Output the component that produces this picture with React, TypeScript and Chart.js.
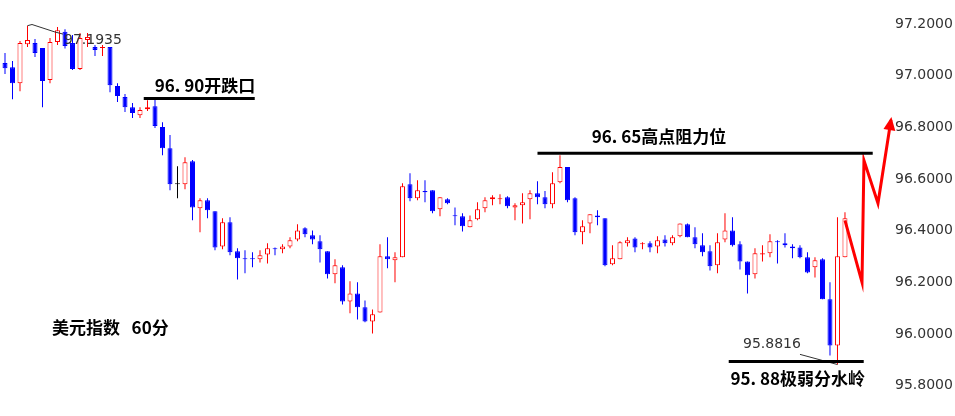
import React, { useEffect, useRef } from "react";
import { Chart, registerables } from "chart.js";

Chart.register(...registerables);

const UP = "#ff0000";
const DOWN = "#0000ff";
const FLAT = "#000000";

// 60-minute candles of the US Dollar Index (O / H / L / C)
const opens = [
  97.049, 97.033, 96.971, 97.122, 97.126, 97.107, 96.983, 97.130, 97.170, 97.126,
  97.026, 97.138, 97.111, 97.107, 97.111, 96.960, 96.917, 96.878, 96.847, 96.870,
  96.882, 96.801, 96.719, 96.580, 96.580, 96.669, 96.487, 96.518, 96.475, 96.339,
  96.432, 96.320, 96.293, 96.293, 96.289, 96.308, 96.332, 96.328, 96.339, 96.366,
  96.409, 96.382, 96.359, 96.320, 96.231, 96.258, 96.126, 96.157, 96.103, 96.048,
  96.083, 96.301, 96.285, 96.297, 96.580, 96.525, 96.553, 96.556, 96.483, 96.522,
  96.459, 96.456, 96.413, 96.444, 96.487, 96.522, 96.522, 96.529, 96.490, 96.498,
  96.522, 96.545, 96.529, 96.502, 96.587, 96.646, 96.525, 96.394, 96.428, 96.459,
  96.448, 96.270, 96.289, 96.351, 96.370, 96.347, 96.351, 96.339, 96.366, 96.351,
  96.378, 96.425, 96.374, 96.343, 96.320, 96.266, 96.366, 96.401, 96.347, 96.281,
  96.231, 96.308, 96.312, 96.359, 96.351, 96.339, 96.335, 96.297, 96.258, 96.289,
  96.134, 95.955, 96.297,
];
const highs = [
  97.088, 97.057, 97.134, 97.1935, 97.142, 97.107, 97.146, 97.188, 97.180, 97.157,
  97.165, 97.165, 97.119, 97.119, 97.111, 96.971, 96.929, 96.894, 96.878, 96.905,
  96.909, 96.820, 96.770, 96.649, 96.684, 96.673, 96.525, 96.525, 96.475, 96.448,
  96.452, 96.332, 96.324, 96.316, 96.324, 96.351, 96.335, 96.347, 96.374, 96.425,
  96.413, 96.401, 96.382, 96.320, 96.289, 96.266, 96.204, 96.200, 96.130, 96.095,
  96.347, 96.374, 96.316, 96.583, 96.622, 96.595, 96.595, 96.556, 96.529, 96.525,
  96.490, 96.467, 96.459, 96.510, 96.529, 96.537, 96.541, 96.533, 96.506, 96.545,
  96.556, 96.591, 96.553, 96.626, 96.692, 96.646, 96.529, 96.440, 96.463, 96.479,
  96.448, 96.343, 96.359, 96.374, 96.374, 96.355, 96.359, 96.378, 96.382, 96.382,
  96.428, 96.428, 96.413, 96.390, 96.343, 96.390, 96.467, 96.452, 96.359, 96.281,
  96.332, 96.343, 96.386, 96.363, 96.390, 96.347, 96.343, 96.316, 96.297, 96.293,
  96.200, 96.452, 96.471,
];
const lows = [
  97.006, 96.909, 96.940, 97.111, 97.072, 96.878, 96.971, 97.119, 97.105, 97.022,
  97.022, 97.111, 97.076, 97.076, 96.936, 96.898, 96.859, 96.836, 96.836, 96.863,
  96.797, 96.692, 96.556, 96.525, 96.560, 96.440, 96.394, 96.448, 96.324, 96.328,
  96.305, 96.211, 96.235, 96.258, 96.277, 96.273, 96.305, 96.312, 96.332, 96.359,
  96.374, 96.347, 96.277, 96.215, 96.196, 96.114, 96.080, 96.056, 96.045, 96.002,
  96.083, 96.254, 96.200, 96.297, 96.514, 96.518, 96.510, 96.467, 96.456, 96.502,
  96.421, 96.397, 96.413, 96.440, 96.471, 96.498, 96.502, 96.487, 96.440, 96.428,
  96.444, 96.502, 96.487, 96.487, 96.583, 96.510, 96.382, 96.347, 96.390, 96.421,
  96.262, 96.266, 96.289, 96.339, 96.316, 96.328, 96.316, 96.312, 96.339, 96.343,
  96.374, 96.374, 96.332, 96.301, 96.246, 96.235, 96.355, 96.339, 96.250, 96.157,
  96.215, 96.281, 96.297, 96.273, 96.335, 96.293, 96.293, 96.235, 96.219, 96.134,
  95.917, 95.8816, 96.297,
];
const closes = [
  97.029, 96.971, 97.126, 97.138, 97.088, 96.979, 97.130, 97.176, 97.115, 97.026,
  97.146, 97.150, 97.099, 97.111, 96.963, 96.921, 96.878, 96.855, 96.867, 96.878,
  96.805, 96.719, 96.580, 96.580, 96.665, 96.490, 96.518, 96.479, 96.335, 96.432,
  96.316, 96.293, 96.289, 96.289, 96.305, 96.332, 96.328, 96.339, 96.363, 96.401,
  96.386, 96.366, 96.328, 96.231, 96.266, 96.126, 96.157, 96.103, 96.048, 96.076,
  96.301, 96.289, 96.297, 96.572, 96.525, 96.556, 96.549, 96.475, 96.529, 96.506,
  96.456, 96.417, 96.440, 96.483, 96.518, 96.529, 96.525, 96.494, 96.498, 96.510,
  96.545, 96.529, 96.502, 96.583, 96.646, 96.518, 96.394, 96.417, 96.463, 96.452,
  96.266, 96.293, 96.355, 96.363, 96.335, 96.351, 96.335, 96.363, 96.351, 96.374,
  96.428, 96.374, 96.347, 96.316, 96.262, 96.355, 96.401, 96.343, 96.281, 96.227,
  96.312, 96.312, 96.359, 96.355, 96.343, 96.332, 96.297, 96.238, 96.285, 96.134,
  95.955, 96.301, 96.448,
];

const yTicks = [95.8, 96.0, 96.2, 96.4, 96.6, 96.8, 97.0, 97.2];

// key horizontal levels: value, from bar index, to bar index
const levelValues = [96.912, 96.7, 95.893];
const levelFrom = [18.5, 71.0, 96.5];
const levelTo = [33.3, 115.7, 114.5];

// projected path (bar index, price)
const projX = [112, 114.27, 114.53, 116.4, 118.13];
const projY = [96.44, 96.2, 96.672, 96.506, 96.828];

// pointer lines for the extreme-value labels
const hiPtrX = [3, 3.6, 6.67, 7.73];
const hiPtrY = [97.1935, 97.198, 97.169, 97.161];
const loPtrX = [106, 111];
const loPtrY = [95.921, 95.8816];

const CJK_FONT = "bold 17px 'Noto Sans CJK SC', sans-serif";
const NUM_FONT = "14px 'DejaVu Sans', sans-serif";

const annotations = [
  { text: "96. 90开跌口", x: 26.67, y: 96.963, align: "center", font: CJK_FONT, color: "#000" },
  { text: "96. 65高点阻力位", x: 87.2, y: 96.766, align: "center", font: CJK_FONT, color: "#000" },
  { text: "95. 88极弱分水岭", x: 105.7, y: 95.827, align: "center", font: CJK_FONT, color: "#000" },
  { text: "美元指数   60分", x: 6.27, y: 96.025, align: "left", font: CJK_FONT, color: "#000" },
  { text: "97.1935", x: 7.87, y: 97.138, align: "left", font: NUM_FONT, color: "#333" },
  { text: "95.8816", x: 98.4, y: 95.959, align: "left", font: NUM_FONT, color: "#333" },
];

const toPts = (xs: number[], ys: number[]) => xs.map((x, i) => ({ x, y: ys[i] }));

export default function App() {
  const ref = useRef<HTMLCanvasElement>(null);

  useEffect(() => {
    if (!ref.current) return;
    const idx = opens.map((_, i) => i);
    const colorOf = (i: number) =>
      closes[i] > opens[i] ? UP : closes[i] < opens[i] ? DOWN : FLAT;

    const levelSets = levelValues.map((v, k) => ({
      type: "line" as const,
      data: [
        { x: levelFrom[k], y: v },
        { x: levelTo[k], y: v },
      ],
      borderColor: "#000",
      borderWidth: 3,
      pointRadius: 0,
      order: 0,
    }));

    const PROJ_INDEX = 2 + levelSets.length + 2;

    const overlay = {
      id: "overlay",
      afterDatasetsDraw(chart: any) {
        const { ctx } = chart;
        const xs = chart.scales.x;
        const ys = chart.scales.y;
        // arrow head on projected path
        const pts = chart.getDatasetMeta(PROJ_INDEX).data;
        const a = pts[pts.length - 2];
        const b = pts[pts.length - 1];
        const ang = Math.atan2(b.y - a.y, b.x - a.x);
        const len = 13;
        const half = 6;
        const tipX = b.x + Math.cos(ang) * 3;
        const tipY = b.y + Math.sin(ang) * 3;
        const bx = tipX - Math.cos(ang) * len;
        const by = tipY - Math.sin(ang) * len;
        ctx.save();
        ctx.fillStyle = UP;
        ctx.beginPath();
        ctx.moveTo(tipX, tipY);
        ctx.lineTo(bx + Math.cos(ang + Math.PI / 2) * half, by + Math.sin(ang + Math.PI / 2) * half);
        ctx.lineTo(bx + Math.cos(ang - Math.PI / 2) * half, by + Math.sin(ang - Math.PI / 2) * half);
        ctx.closePath();
        ctx.fill();
        // text labels
        ctx.textBaseline = "middle";
        for (const an of annotations) {
          ctx.font = an.font;
          ctx.fillStyle = an.color;
          ctx.textAlign = an.align as CanvasTextAlign;
          ctx.fillText(an.text, xs.getPixelForValue(an.x), ys.getPixelForValue(an.y));
        }
        ctx.restore();
      },
    };

    const chart = new Chart(ref.current, {
      type: "bar",
      data: {
        datasets: [
          {
            type: "bar",
            label: "wick",
            data: idx.map((i) => ({ x: i, y: [lows[i], highs[i]] })) as any,
            backgroundColor: idx.map(colorOf),
            barThickness: 1,
            grouped: false,
            inflateAmount: 0,
            order: 3,
          } as any,
          {
            type: "bar",
            label: "body",
            data: idx.map((i) => ({ x: i, y: [opens[i], closes[i]] })) as any,
            backgroundColor: idx.map((i) => (closes[i] > opens[i] ? "#ffffff" : colorOf(i))),
            borderColor: idx.map(colorOf),
            borderWidth: 1,
            borderSkipped: false,
            barThickness: 5,
            minBarLength: 1,
            grouped: false,
            inflateAmount: 0,
            order: 2,
          } as any,
          ...levelSets,
          {
            type: "line",
            data: toPts(hiPtrX, hiPtrY),
            borderColor: "#333",
            borderWidth: 1,
            pointRadius: 0,
            order: 0,
          },
          {
            type: "line",
            data: toPts(loPtrX, loPtrY),
            borderColor: "#333",
            borderWidth: 1,
            pointRadius: 0,
            order: 0,
          },
          {
            type: "line",
            data: toPts(projX, projY),
            borderColor: UP,
            borderWidth: 3,
            pointRadius: 0,
            clip: false,
            order: 0,
          } as any,
        ],
      },
      options: {
        animation: false,
        responsive: false,
        devicePixelRatio: 1,
        layout: { padding: 0 },
        plugins: { legend: { display: false }, tooltip: { enabled: false } },
        scales: {
          x: {
            type: "linear",
            display: false,
            offset: false,
            min: -0.667,
            max: 118.27,
          },
          y: {
            type: "linear",
            position: "right",
            min: 95.6824,
            max: 97.2929,
            grid: { display: false, drawTicks: false },
            border: { display: false },
            afterBuildTicks: (scale: any) => {
              scale.ticks = yTicks.map((v) => ({ value: v }));
            },
            afterFit: (scale: any) => {
              scale.width = 63;
              scale.paddingTop = 0;
              scale.paddingBottom = 0;
            },
            ticks: {
              padding: 3,
              color: "#333",
              font: { family: "'DejaVu Sans'", size: 14 },
              callback: (v: any) => Number(v).toFixed(4),
              autoSkip: false,
            },
          },
        },
      },
      plugins: [overlay],
    });
    return () => chart.destroy();
  }, []);

  return (
    <div style={{ position: "fixed", left: 0, top: 0, width: 955, height: 416, background: "#fff" }}>
      <canvas ref={ref} width={955} height={416} />
    </div>
  );
}
